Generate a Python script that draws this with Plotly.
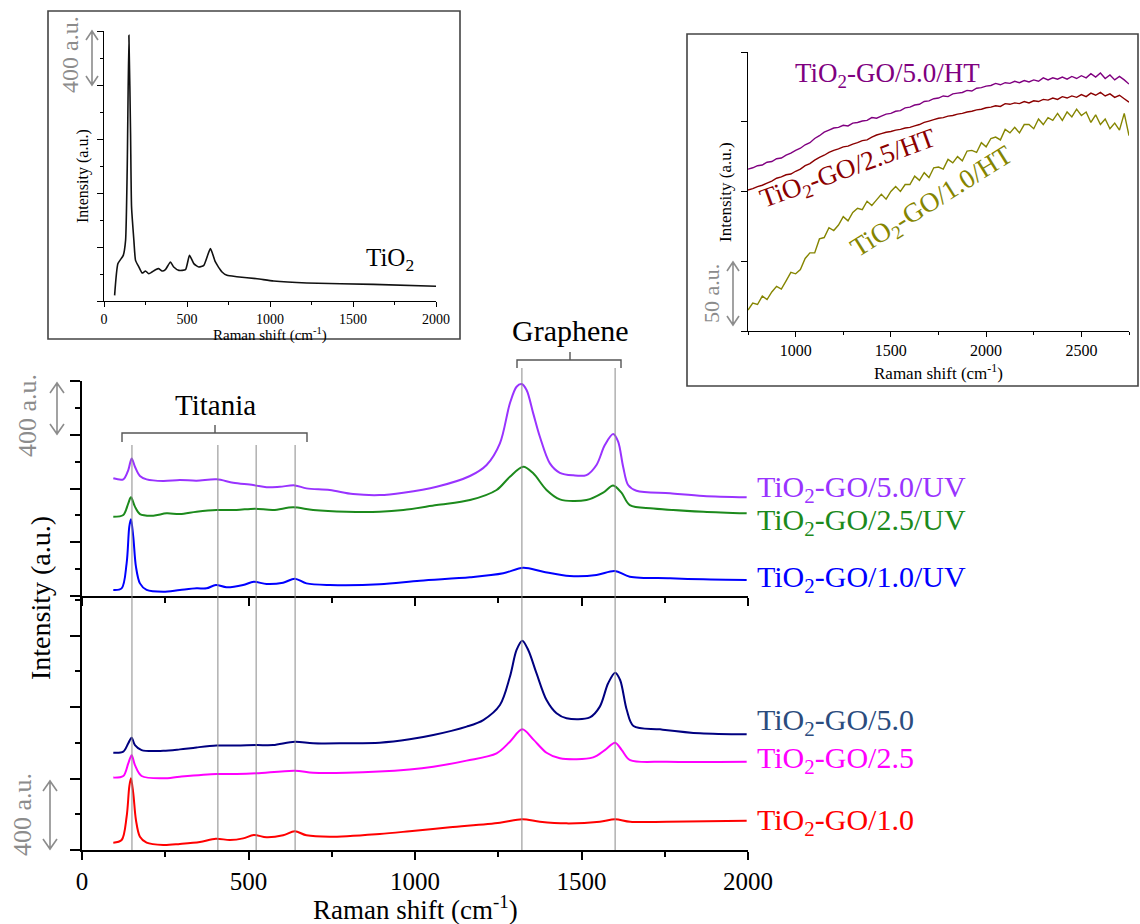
import plotly.graph_objects as go

W, H = 1140, 924
FONT = "Liberation Serif, Times New Roman, serif"

# ---------------- data ----------------
# main chart, upper panel (UV series), intensity in a.u. incl. stacking offset
uv50_x = [94, 124, 139, 149, 159, 174, 194, 244, 294, 344, 404, 454, 514, 554, 594, 639, 674, 744, 814, 894,
          965, 1065, 1165, 1215, 1255, 1285, 1305, 1320, 1335, 1355, 1375, 1405, 1435, 1475, 1515, 1545, 1570,
          1595, 1610, 1625, 1640, 1665, 1766, 1866, 1996]
uv50_y = [876, 868, 937, 1024, 962, 893, 868, 856, 863, 858, 868, 843, 826, 809, 813, 823, 801, 789, 759, 751,
          769, 813, 893, 975, 1136, 1434, 1557, 1577, 1533, 1359, 1185, 987, 917, 898, 900, 975, 1123,
          1205, 1148, 962, 826, 783, 764, 744, 734]

uv25_x = [94, 124, 139, 147, 159, 174, 214, 254, 294, 344, 404, 464, 519, 574, 634, 694, 794, 894, 965, 1065,
          1165, 1245, 1285, 1325, 1355, 1395, 1435, 1515, 1565, 1595, 1620, 1645, 1716, 1866, 1996]
uv25_y = [590, 603, 690, 734, 665, 610, 598, 615, 610, 627, 640, 640, 650, 640, 660, 640, 627, 627, 640, 677,
          714, 789, 888, 962, 913, 789, 719, 714, 769, 823, 769, 677, 652, 627, 615]

uv10_x = [94, 119, 134, 142, 147, 154, 162, 174, 194, 244, 294, 344, 374, 402, 434, 484, 516, 554, 604, 639,
          674, 744, 894, 1015, 1165, 1265, 1325, 1385, 1465, 1545, 1600, 1645, 1766, 1866, 1996]
uv10_y = [45, 57, 243, 516, 571, 441, 218, 94, 45, 32, 45, 57, 57, 82, 65, 82, 106, 89, 99, 129,
          94, 82, 87, 114, 139, 169, 211, 181, 149, 156, 186, 144, 132, 124, 119]

# main chart, lower panel (as-prepared series)
go50_x = [94, 124, 139, 149, 159, 179, 244, 294, 344, 404, 464, 524, 574, 639, 694, 794, 894, 984, 1055, 1155,
          1205, 1255, 1285, 1305, 1322, 1340, 1365, 1395, 1425, 1455, 1525, 1555, 1580, 1601, 1616, 1636,
          1656, 1736, 1856, 1996]
go50_y = [544, 550, 597, 628, 587, 559, 555, 563, 574, 584, 584, 587, 587, 606, 597, 597, 600, 619, 643, 690,
          727, 811, 969, 1119, 1171, 1119, 988, 839, 765, 737, 742, 802, 933, 992, 951, 783,
          694, 675, 653, 647]

go25_x = [94, 124, 139, 149, 159, 179, 244, 294, 404, 464, 524, 639, 694, 794, 984, 1055, 1155, 1245, 1285,
          1322, 1355, 1395, 1435, 1535, 1570, 1601, 1621, 1646, 1756, 1996]
go25_y = [405, 414, 485, 530, 475, 414, 401, 410, 425, 425, 429, 444, 432, 432, 451, 466, 500, 541, 606,
          675, 619, 544, 513, 518, 559, 600, 559, 503, 494, 494]

go10_x = [94, 119, 134, 142, 147, 154, 162, 174, 194, 244, 294, 354, 402, 444, 484, 516, 554, 604, 639, 674,
          744, 894, 984, 1105, 1255, 1322, 1375, 1455, 1555, 1601, 1646, 1756, 1996]
go10_y = [41, 56, 186, 354, 401, 317, 168, 74, 41, 28, 34, 45, 63, 56, 65, 84, 71, 82, 105, 82,
          74, 90, 105, 127, 153, 172, 158, 149, 158, 172, 158, 158, 164]

# inset 1: pure TiO2
tio2_x = [64, 84, 116, 130, 140, 150, 160, 166, 180, 190, 210, 230, 250, 270, 310, 330, 350, 370, 400, 420,
          451, 491, 515, 541, 571, 601, 641, 671, 711, 741, 800, 922, 1022, 1222, 1623, 2000]
tio2_y = [42, 277, 338, 449, 993, 1968, 1240, 696, 449, 301, 252, 207, 222, 202, 232, 240, 222, 232, 289, 252,
          227, 232, 338, 277, 252, 264, 388, 289, 215, 190, 180, 165, 148, 133, 123, 109]

# inset 2: HT series
ht_x = list(range(750, 2751, 25))
ht50_y = [116, 117, 118.5, 119, 121, 121.5, 123.5, 124, 126, 127.5, 129.5, 131, 133.5, 135, 138, 140, 142.5,
          144, 145.5, 146, 147.5, 147, 149, 149.5, 150.5, 151, 153, 152.5, 154, 155.5, 156, 157.5, 158, 160,
          160.5, 162, 162.5, 164.5, 165, 166.5, 167, 168.5, 168, 170, 170.5, 171, 172.5, 172, 174, 174.5,
          175.5, 176, 177.5, 176.5, 178, 177.5, 179, 178, 179.5, 178.5, 180, 179, 181.5, 180, 181.5, 180.5,
          182, 180.5, 182.5, 181, 183, 181.5, 184.5, 182, 185, 181, 183.5, 180, 182.5, 180, 177]
ht25_y = [101, 102, 103.5, 104.5, 106, 107.5, 109.5, 110.5, 112, 112.5, 114.5, 116, 118.5, 120, 122.5, 124.5,
          126, 128, 129.5, 130.5, 132, 132.5, 134, 135, 136.5, 137, 139, 140.5, 141.5, 142.5, 143, 144, 144.5,
          145.5, 146, 147, 148, 149.5, 150.5, 151.5, 152.5, 153, 154, 154.5, 155.5, 156, 157, 157.5, 158.5,
          159, 160, 160.5, 161.5, 161, 163, 162.5, 163.5, 163, 164.5, 163.5, 165, 164.5, 166, 165.5, 167, 166,
          168, 167, 168.5, 167.5, 169.5, 168, 170.5, 169, 171, 168.5, 170, 167.5, 169, 166.5, 164]
ht10_y = [15, 20, 19, 25, 22.5, 28, 32, 30, 36, 42, 41, 44, 52, 56, 56, 66, 67, 74, 72, 76, 82, 79, 85, 88,
          87, 93, 90, 94, 98, 94.5, 100, 103.5, 100, 105, 105, 111, 108, 113.5, 110, 117, 117.5, 116, 123,
          120.5, 125, 122, 129, 129.5, 128, 135, 132, 138, 139, 137, 144.5, 142, 146, 142, 148, 148, 145, 152,
          148, 153, 151, 156, 151, 157, 153.5, 159, 154.5, 157, 149.5, 155, 148, 152, 145, 149, 144, 156, 140]

titania_lines = [150, 408, 523, 640]
graphene_lines = [1321, 1601]

# ---------------- helpers ----------------
def X(p):
    return p / W


def Y(p):
    return 1 - p / H


fig = go.Figure()


def add_line(x, y, color, xa, ya, width=2.0, smooth=0.9):
    fig.add_trace(go.Scatter(x=x, y=y, mode="lines", xaxis=xa, yaxis=ya, showlegend=False,
                             hoverinfo="skip",
                             line=dict(color=color, width=width, shape="spline", smoothing=smooth)))


add_line(uv50_x, uv50_y, "#9933FF", "x2", "y2")
add_line(uv25_x, uv25_y, "#1C8A1C", "x2", "y2")
add_line(uv10_x, uv10_y, "#0000FF", "x2", "y2")
add_line(go50_x, go50_y, "#000080", "x", "y")
add_line(go25_x, go25_y, "#FF00FF", "x", "y")
add_line(go10_x, go10_y, "#FF0000", "x", "y")
add_line(tio2_x, tio2_y, "#111111", "x3", "y3", width=1.6, smooth=0.5)
add_line(ht_x, ht50_y, "#800080", "x4", "y4", width=1.4, smooth=0)
add_line(ht_x, ht25_y, "#8B0000", "x4", "y4", width=1.4, smooth=0)
add_line(ht_x, ht10_y, "#858500", "x4", "y4", width=1.4, smooth=0)

shapes = []
# reference lines
for v in titania_lines:
    shapes.append(dict(type="line", xref="x", yref="paper", x0=v, x1=v, y0=Y(850), y1=Y(445),
                       line=dict(color="rgba(140,140,140,0.85)", width=1.2), layer="above"))
for v in graphene_lines:
    shapes.append(dict(type="line", xref="x", yref="paper", x0=v, x1=v, y0=Y(850), y1=Y(368),
                       line=dict(color="rgba(140,140,140,0.85)", width=1.2), layer="above"))


def path(points):
    s = ""
    for cmd, (a, b) in points:
        s += f"{cmd} {X(a):.5f},{Y(b):.5f} "
    return s.strip()


# brackets
shapes.append(dict(type="path", xref="paper", yref="paper",
                   path=path([("M", (122, 442)), ("L", (122, 433)), ("L", (307, 433)), ("L", (307, 442)),
                              ("M", (215, 433)), ("L", (215, 425))]),
                   line=dict(color="#555555", width=1.4)))
shapes.append(dict(type="path", xref="paper", yref="paper",
                   path=path([("M", (517, 368)), ("L", (517, 360)), ("L", (621, 360)), ("L", (621, 368)),
                              ("M", (570, 360)), ("L", (570, 352))]),
                   line=dict(color="#555555", width=1.4)))


def darrow(x, y0, y1, hw=7, hh=10):
    col = "#8C8C8C"
    shapes.append(dict(type="path", xref="paper", yref="paper",
                       path=path([("M", (x, y0)), ("L", (x, y1)),
                                  ("M", (x - hw, y0 + hh)), ("L", (x, y0)), ("L", (x + hw, y0 + hh)),
                                  ("M", (x - hw, y1 - hh)), ("L", (x, y1)), ("L", (x + hw, y1 - hh))]),
                       line=dict(color=col, width=1.6)))


darrow(57, 383, 434)
darrow(50, 781, 849)
darrow(92, 31, 85, hw=6, hh=9)
darrow(733, 262, 325, hw=6, hh=9)

# inset boxes
shapes.append(dict(type="rect", xref="paper", yref="paper", x0=X(48), x1=X(460), y0=Y(339), y1=Y(11),
                   line=dict(color="#444444", width=1.6)))
shapes.append(dict(type="rect", xref="paper", yref="paper", x0=X(687), x1=X(1138), y0=Y(386), y1=Y(34),
                   line=dict(color="#444444", width=1.6)))

ann = []


def text(x, y, s, size, color="black", angle=0, xanchor="center"):
    ann.append(dict(x=X(x), y=Y(y), xref="paper", yref="paper", text=s, showarrow=False,
                    textangle=angle, xanchor=xanchor, yanchor="middle",
                    font=dict(family=FONT, size=size, color=color)))


# main chart texts
text(215, 405, "Titania", 29)
text(570, 330, "Graphene", 30)
text(40, 598, "Intensity (a.u.)", 28, angle=-90)
text(415, 908, "Raman shift (cm<sup>-1</sup>)", 27)
text(27, 416, "400 a.u.", 26, color="#8C8C8C", angle=-90)
text(22, 815, "400 a.u.", 26, color="#8C8C8C", angle=-90)
text(755, 489, "TiO<sub>2</sub>-GO/5.0/UV", 30, color="#9933FF", xanchor="left")
text(755, 522, "TiO<sub>2</sub>-GO/2.5/UV", 30, color="#1C8A1C", xanchor="left")
text(755, 579, "TiO<sub>2</sub>-GO/1.0/UV", 30, color="#0000FF", xanchor="left")
text(755, 722, "TiO<sub>2</sub>-GO/5.0", 30, color="#2B4C7E", xanchor="left")
text(755, 760, "TiO<sub>2</sub>-GO/2.5", 30, color="#FF00FF", xanchor="left")
text(755, 822, "TiO<sub>2</sub>-GO/1.0", 30, color="#FF0000", xanchor="left")

# inset 1 texts
text(70, 55, "400 a.u.", 24, color="#8C8C8C", angle=-90)
text(83, 176, "Intensity (a.u.)", 16, angle=-90)
text(270, 334, "Raman shift (cm<sup>-1</sup>)", 15)
text(390, 259, "TiO<sub>2</sub>", 25)

# inset 2 texts
text(712, 294, "50 a.u.", 22, color="#8C8C8C", angle=-90)
text(725, 192, "Intensity (a.u.)", 17, angle=-90)
text(938, 372, "Raman shift (cm<sup>-1</sup>)", 17)
text(887, 75, "TiO<sub>2</sub>-GO/5.0/HT", 27, color="#800080")
text(848, 170, "TiO<sub>2</sub>-GO/2.5/HT", 27, color="#8B0000", angle=-20)
text(932, 203, "TiO<sub>2</sub>-GO/1.0/HT", 27, color="#858500", angle=-32)


def xax(domain, rng, anchor, dtick, minor, size, labels=True, matches=None, lw=2, tl=8, mtl=5):
    d = dict(domain=domain, range=rng, anchor=anchor, showline=True, linecolor="black", linewidth=lw,
             ticks="outside", ticklen=tl, tickwidth=lw, tickcolor="black", dtick=dtick, tick0=0,
             showgrid=False, zeroline=False, showticklabels=labels, automargin=False,
             tickfont=dict(family=FONT, size=size, color="black"))
    if minor:
        d["minor"] = dict(dtick=minor, ticks="outside", ticklen=mtl, tickwidth=lw, tickcolor="black",
                          showgrid=False)
    if matches:
        d["matches"] = matches
    return d


def yax(domain, rng, anchor, dtick, minor, lw=2, tl=10, mtl=5):
    d = dict(domain=domain, range=rng, anchor=anchor, showline=True, linecolor="black", linewidth=lw,
             ticks="outside", ticklen=tl, tickwidth=lw, tickcolor="black", dtick=dtick, tick0=0,
             showgrid=False, zeroline=False, showticklabels=False, automargin=False)
    if minor:
        d["minor"] = dict(dtick=minor, ticks="outside", ticklen=mtl, tickwidth=lw, tickcolor="black",
                          showgrid=False)
    return d


fig.update_layout(
    width=W, height=H, margin=dict(l=0, r=0, t=0, b=0, pad=0), autosize=False,
    paper_bgcolor="white", plot_bgcolor="white",
    xaxis=xax([X(82), X(748)], [0, 2000], "y", 500, 250, 25),
    yaxis=yax([Y(850), Y(596)], [0, 1421], "x", 400, 200),
    xaxis2=xax([X(82), X(748)], [0, 2000], "y2", 500, 250, 25, labels=False, matches="x"),
    yaxis2=yax([Y(596), Y(381)], [0, 1600], "x2", 400, 200),
    xaxis3=xax([X(104), X(436)], [0, 2000], "y3", 500, 250, 14, lw=1.4, tl=5, mtl=3),
    yaxis3=yax([Y(301), Y(31)], [0, 2000], "x3", 400, 200, lw=1.4, tl=6, mtl=3),
    xaxis4=xax([X(748), X(1129)], [750, 2750], "y4", 500, 250, 16, lw=1.4, tl=5, mtl=3),
    yaxis4=yax([Y(331), Y(52)], [0, 200], "x4", 50, None, lw=1.4, tl=6),
    shapes=shapes, annotations=ann,
)

fig.write_html("out.html")
